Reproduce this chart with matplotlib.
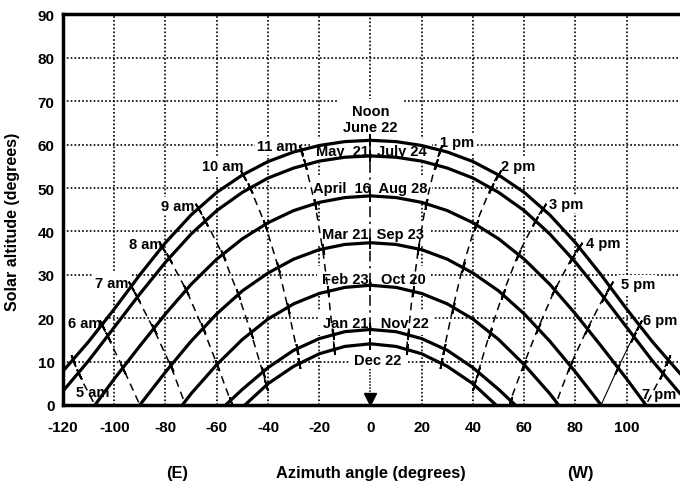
import numpy as np
import matplotlib
matplotlib.use('Agg')
import matplotlib.pyplot as plt

plt.rcParams['font.family'] = ['Liberation Sans', 'DejaVu Sans']
plt.rcParams['font.weight'] = 'bold'
plt.rcParams['axes.unicode_minus'] = False

nan = np.nan

# date curves: azimuth (deg) / solar altitude (deg)
jun_az = [-130, -120, -110, -100, -90, -80, -70, -60, -50, -40, -30, -20, -10, 0,
          10, 20, 30, 40, 50, 60, 70, 80, 90, 100, 110, 120, 130]
jun_alt = [1.5, 7.8, 14.6, 22.1, 30.0, 37.4, 43.8, 49.0, 53.0, 56.1, 58.3, 59.8, 60.7, 61.0,
           60.7, 59.8, 58.3, 56.1, 53.0, 49.0, 43.8, 37.4, 30.0, 22.1, 14.6, 7.8, 1.5]

may_az = [-125, -120, -110, -100, -90, -80, -70, -60, -50, -40, -30, -20, -10, 0,
          10, 20, 30, 40, 50, 60, 70, 80, 90, 100, 110, 120, 125]
may_alt = [0.0, 3.2, 10.2, 17.9, 25.6, 32.9, 39.4, 44.8, 49.0, 52.3, 54.6, 56.2, 57.1, 57.4,
           57.1, 56.2, 54.6, 52.3, 49.0, 44.8, 39.4, 32.9, 25.6, 17.9, 10.2, 3.2, 0.0]

apr_az = [-107.5, -100, -90, -80, -70, -60, -50, -40, -30, -20, -10, 0,
          10, 20, 30, 40, 50, 60, 70, 80, 90, 100, 107.5]
apr_alt = [0.0, 6.0, 13.6, 21.0, 27.8, 33.6, 38.3, 42.0, 44.8, 46.7, 47.8, 48.2,
           47.8, 46.7, 44.8, 42.0, 38.3, 33.6, 27.8, 21.0, 13.6, 6.0, 0.0]

mar_az = [-90, -80, -70, -60, -50, -40, -30, -20, -10, 0, 10, 20, 30, 40, 50, 60, 70, 80, 90]
mar_alt = [0.0, 7.6, 14.7, 21.0, 26.3, 30.4, 33.6, 35.8, 37.0, 37.4,
           37.0, 35.8, 33.6, 30.4, 26.3, 21.0, 14.7, 7.6, 0.0]

feb_az = [-73.4, -70, -60, -50, -40, -30, -20, -10, 0, 10, 20, 30, 40, 50, 60, 70, 73.4]
feb_alt = [0.0, 2.6, 9.3, 15.1, 19.8, 23.3, 25.7, 27.1, 27.6,
           27.1, 25.7, 23.3, 19.8, 15.1, 9.3, 2.6, 0.0]

jan_az = [-56.5, -50, -40, -30, -20, -10, 0, 10, 20, 30, 40, 50, 56.5]
jan_alt = [0.0, 3.6, 8.6, 12.6, 15.3, 16.9, 17.4, 16.9, 15.3, 12.6, 8.6, 3.6, 0.0]

dec_az = [-49, -40, -30, -20, -10, 0, 10, 20, 30, 40, 49]
dec_alt = [0.0, 4.9, 8.9, 11.8, 13.5, 14.1, 13.5, 11.8, 8.9, 4.9, 0.0]

# hour points on each date curve, hours 5..19 (nan = sun below horizon)
hours = [5, 6, 7, 8, 9, 10, 11, 12, 13, 14, 15, 16, 17, 18, 19]
jun_hr_az = [-116.0, -104.8, -93.5, -81.3, -67.2, -49.8, -27.3, 0, 27.3, 49.8, 67.2, 81.3, 93.5, 104.8, 116.0]
jun_hr_alt = [10.4, 18.4, 27.4, 36.5, 45.3, 53.1, 58.8, 61.0, 58.8, 53.1, 45.3, 36.5, 27.4, 18.4, 10.4]
may_hr_az = [-113.9, -102.5, -91.0, -78.6, -64.4, -47.0, -25.4, 0, 25.4, 47.0, 64.4, 78.6, 91.0, 102.5, 113.9]
may_hr_alt = [7.1, 15.7, 24.8, 33.9, 42.5, 50.1, 55.5, 57.4, 55.5, 50.1, 42.5, 33.9, 24.8, 15.7, 7.1]
apr_hr_az = [-107.5, -96.4, -84.5, -71.8, -57.6, -41.0, -21.6, 0, 21.6, 41.0, 57.6, 71.8, 84.5, 96.4, 107.5]
apr_hr_alt = [0.0, 8.3, 17.4, 26.4, 34.6, 41.5, 46.3, 48.2, 46.3, 41.5, 34.6, 26.4, 17.4, 8.3, 0.0]
mar_hr_az = [nan, -90.0, -78.0, -65.4, -51.6, -36.0, -18.7, 0, 18.7, 36.0, 51.6, 65.4, 78.0, 90.0, nan]
mar_hr_alt = [nan, 0.0, 9.1, 17.7, 25.5, 31.8, 36.0, 37.4, 36.0, 31.8, 25.5, 17.7, 9.1, 0.0, nan]
feb_hr_az = [nan, nan, -72.5, -59.8, -46.6, -32.2, -16.5, 0, 16.5, 32.2, 46.6, 59.8, 72.5, nan, nan]
feb_hr_alt = [nan, nan, 0.5, 9.3, 16.6, 22.4, 26.2, 27.6, 26.2, 22.4, 16.6, 9.3, 0.5, nan, nan]
jan_hr_az = [nan, nan, nan, -54.5, -42.1, -28.8, -14.7, 0, 14.7, 28.8, 42.1, 54.5, nan, nan, nan]
jan_hr_alt = [nan, nan, nan, 0.8, 7.7, 13.0, 16.3, 17.4, 16.3, 13.0, 7.7, 0.8, nan, nan, nan]
dec_hr_az = [nan, nan, nan, nan, -40.6, -27.7, -14.1, 0, 14.1, 27.7, 40.6, nan, nan, nan, nan]
dec_hr_alt = [nan, nan, nan, nan, 4.5, 9.7, 12.9, 14.1, 12.9, 9.7, 4.5, nan, nan, nan, nan]

hour_labels = ['5 am', '6 am', '7 am', '8 am', '9 am', '10 am', '11 am', '',
               '1 pm', '2 pm', '3 pm', '4 pm', '5 pm', '6 pm', '7 pm']
hour_lab_az = [-108.5, -111.7, -101.1, -87.9, -75.3, -57.6, -36.4, nan,
               33.7, 57.5, 76.2, 90.7, 104.3, 113.2, 112.5]
hour_lab_alt = [2.9, 19.0, 28.2, 37.1, 45.9, 55.1, 59.7, nan,
                60.5, 55.1, 46.3, 37.3, 27.8, 19.6, 2.6]

date_labels = ['Noon\nJune 22', 'May  21, July 24', 'April  16  Aug 28', 'Mar 21  Sep 23',
               'Feb 23,  Oct 20', 'Jan 21,  Nov 22', 'Dec 22']
date_lab_az = [0, 0.3, -0.2, 0.8, 1.2, 2.2, 3.0]
date_lab_alt = [65.9, 58.5, 49.9, 39.4, 29.2, 19.0, 10.4]

curves = [(jun_az, jun_alt), (may_az, may_alt), (apr_az, apr_alt), (mar_az, mar_alt),
          (feb_az, feb_alt), (jan_az, jan_alt), (dec_az, dec_alt)]
hr_az = np.array([jun_hr_az, may_hr_az, apr_hr_az, mar_hr_az, feb_hr_az, jan_hr_az, dec_hr_az])
hr_alt = np.array([jun_hr_alt, may_hr_alt, apr_hr_alt, mar_hr_alt, feb_hr_alt, jan_hr_alt, dec_hr_alt])

fig = plt.figure(figsize=(6.8, 4.85), dpi=100)
ax = fig.add_axes([0.0926, 0.1629, 0.9074, 0.8052])
ax.set_xlim(-120, 120.8)
ax.set_ylim(0, 90)

# dotted grid
dot = (0, (1, 1.3))
for y in range(10, 90, 10):
    ax.axhline(y, color='k', lw=1.2, ls=dot, zorder=1)
for x in range(-100, 120, 20):
    if x == 0:
        ax.axvline(x, ymin=66 / 90, color='k', lw=1.2, ls=dot, zorder=1)
    else:
        ax.axvline(x, color='k', lw=1.2, ls=dot, zorder=1)

# date curves
for az, alt in curves:
    ax.plot(az, alt, color='k', lw=2.3, zorder=4, solid_capstyle='butt')

# hour lines
sx, sy = 2.585, 4.345  # px per degree, for tick orientation
for i, h in enumerate(hours):
    a = hr_az[:, i]
    b = hr_alt[:, i]
    ok = ~np.isnan(a)
    a, b = a[ok], b[ok]
    if h == 12:
        ax.plot(a, b, color='k', lw=1.1, ls=(0, (7, 3, 1.5, 3)), zorder=3)
    elif h == 18:
        ax.plot(a, b, color='k', lw=0.8, zorder=3)
    else:
        ax.plot(a, b, color='k', lw=1.1, ls=(0, (5, 3.5)), zorder=3)
    # short ticks across the date curves
    if len(a) > 1:
        da = np.gradient(a) * sx
        db = np.gradient(b) * sy
    else:
        da, db = np.zeros(1), np.ones(1)
    for x, y, dx, dy in zip(a, b, da, db):
        if y < 0.6:
            continue
        ang = np.degrees(np.arctan2(-dx, dy))
        ax.plot(x, y, marker=(2, 2, ang), ms=8, mew=1.3, color='k', zorder=5)

# hour labels
box = dict(boxstyle='square,pad=0.15', fc='white', ec='none')
for t, x, y in zip(hour_labels, hour_lab_az, hour_lab_alt):
    if t:
        ax.text(x, y, t, ha='center', va='center', fontsize=10.5, fontweight='bold',
                bbox=box, zorder=2, clip_on=False)

for t, x, y in zip(date_labels, date_lab_az, date_lab_alt):
    ax.text(x, y, t, ha='center', va='center', fontsize=10.5, fontweight='bold',
            bbox=dict(boxstyle='square,pad=0.35', fc='white', ec='none'), zorder=2,
            linespacing=1.25)

# arrow below Dec 22
ax.plot([0, 0], [8.2, 2.6], color='k', lw=1.1, ls=(0, (1, 1)), zorder=3)
ax.plot(0, 1.4, marker='v', ms=9, color='k', zorder=6, clip_on=False)

# axes styling
for side in ['left', 'bottom', 'top']:
    ax.spines[side].set_linewidth(2.5)
ax.spines['right'].set_visible(False)
ax.set_xticks(range(-120, 120, 20))
ax.set_yticks(range(0, 100, 10))
ax.tick_params(length=0, labelsize=11)
ax.tick_params(axis='x', pad=11)
ax.tick_params(axis='y', pad=6)
for lab in ax.get_xticklabels() + ax.get_yticklabels():
    lab.set_fontweight('bold')

fig.text(0.019, 0.542, 'Solar altitude (degrees)', rotation=90, ha='center', va='center',
         fontsize=11.5, fontweight='bold')
fig.text(0.546, 0.024, 'Azimuth angle (degrees)', ha='center', va='center',
         fontsize=11.8, fontweight='bold')
fig.text(0.26, 0.024, '(E)', ha='center', va='center', fontsize=11.8, fontweight='bold')
fig.text(0.853, 0.024, '(W)', ha='center', va='center', fontsize=11.8, fontweight='bold')

fig.savefig('out.png', dpi=100)
